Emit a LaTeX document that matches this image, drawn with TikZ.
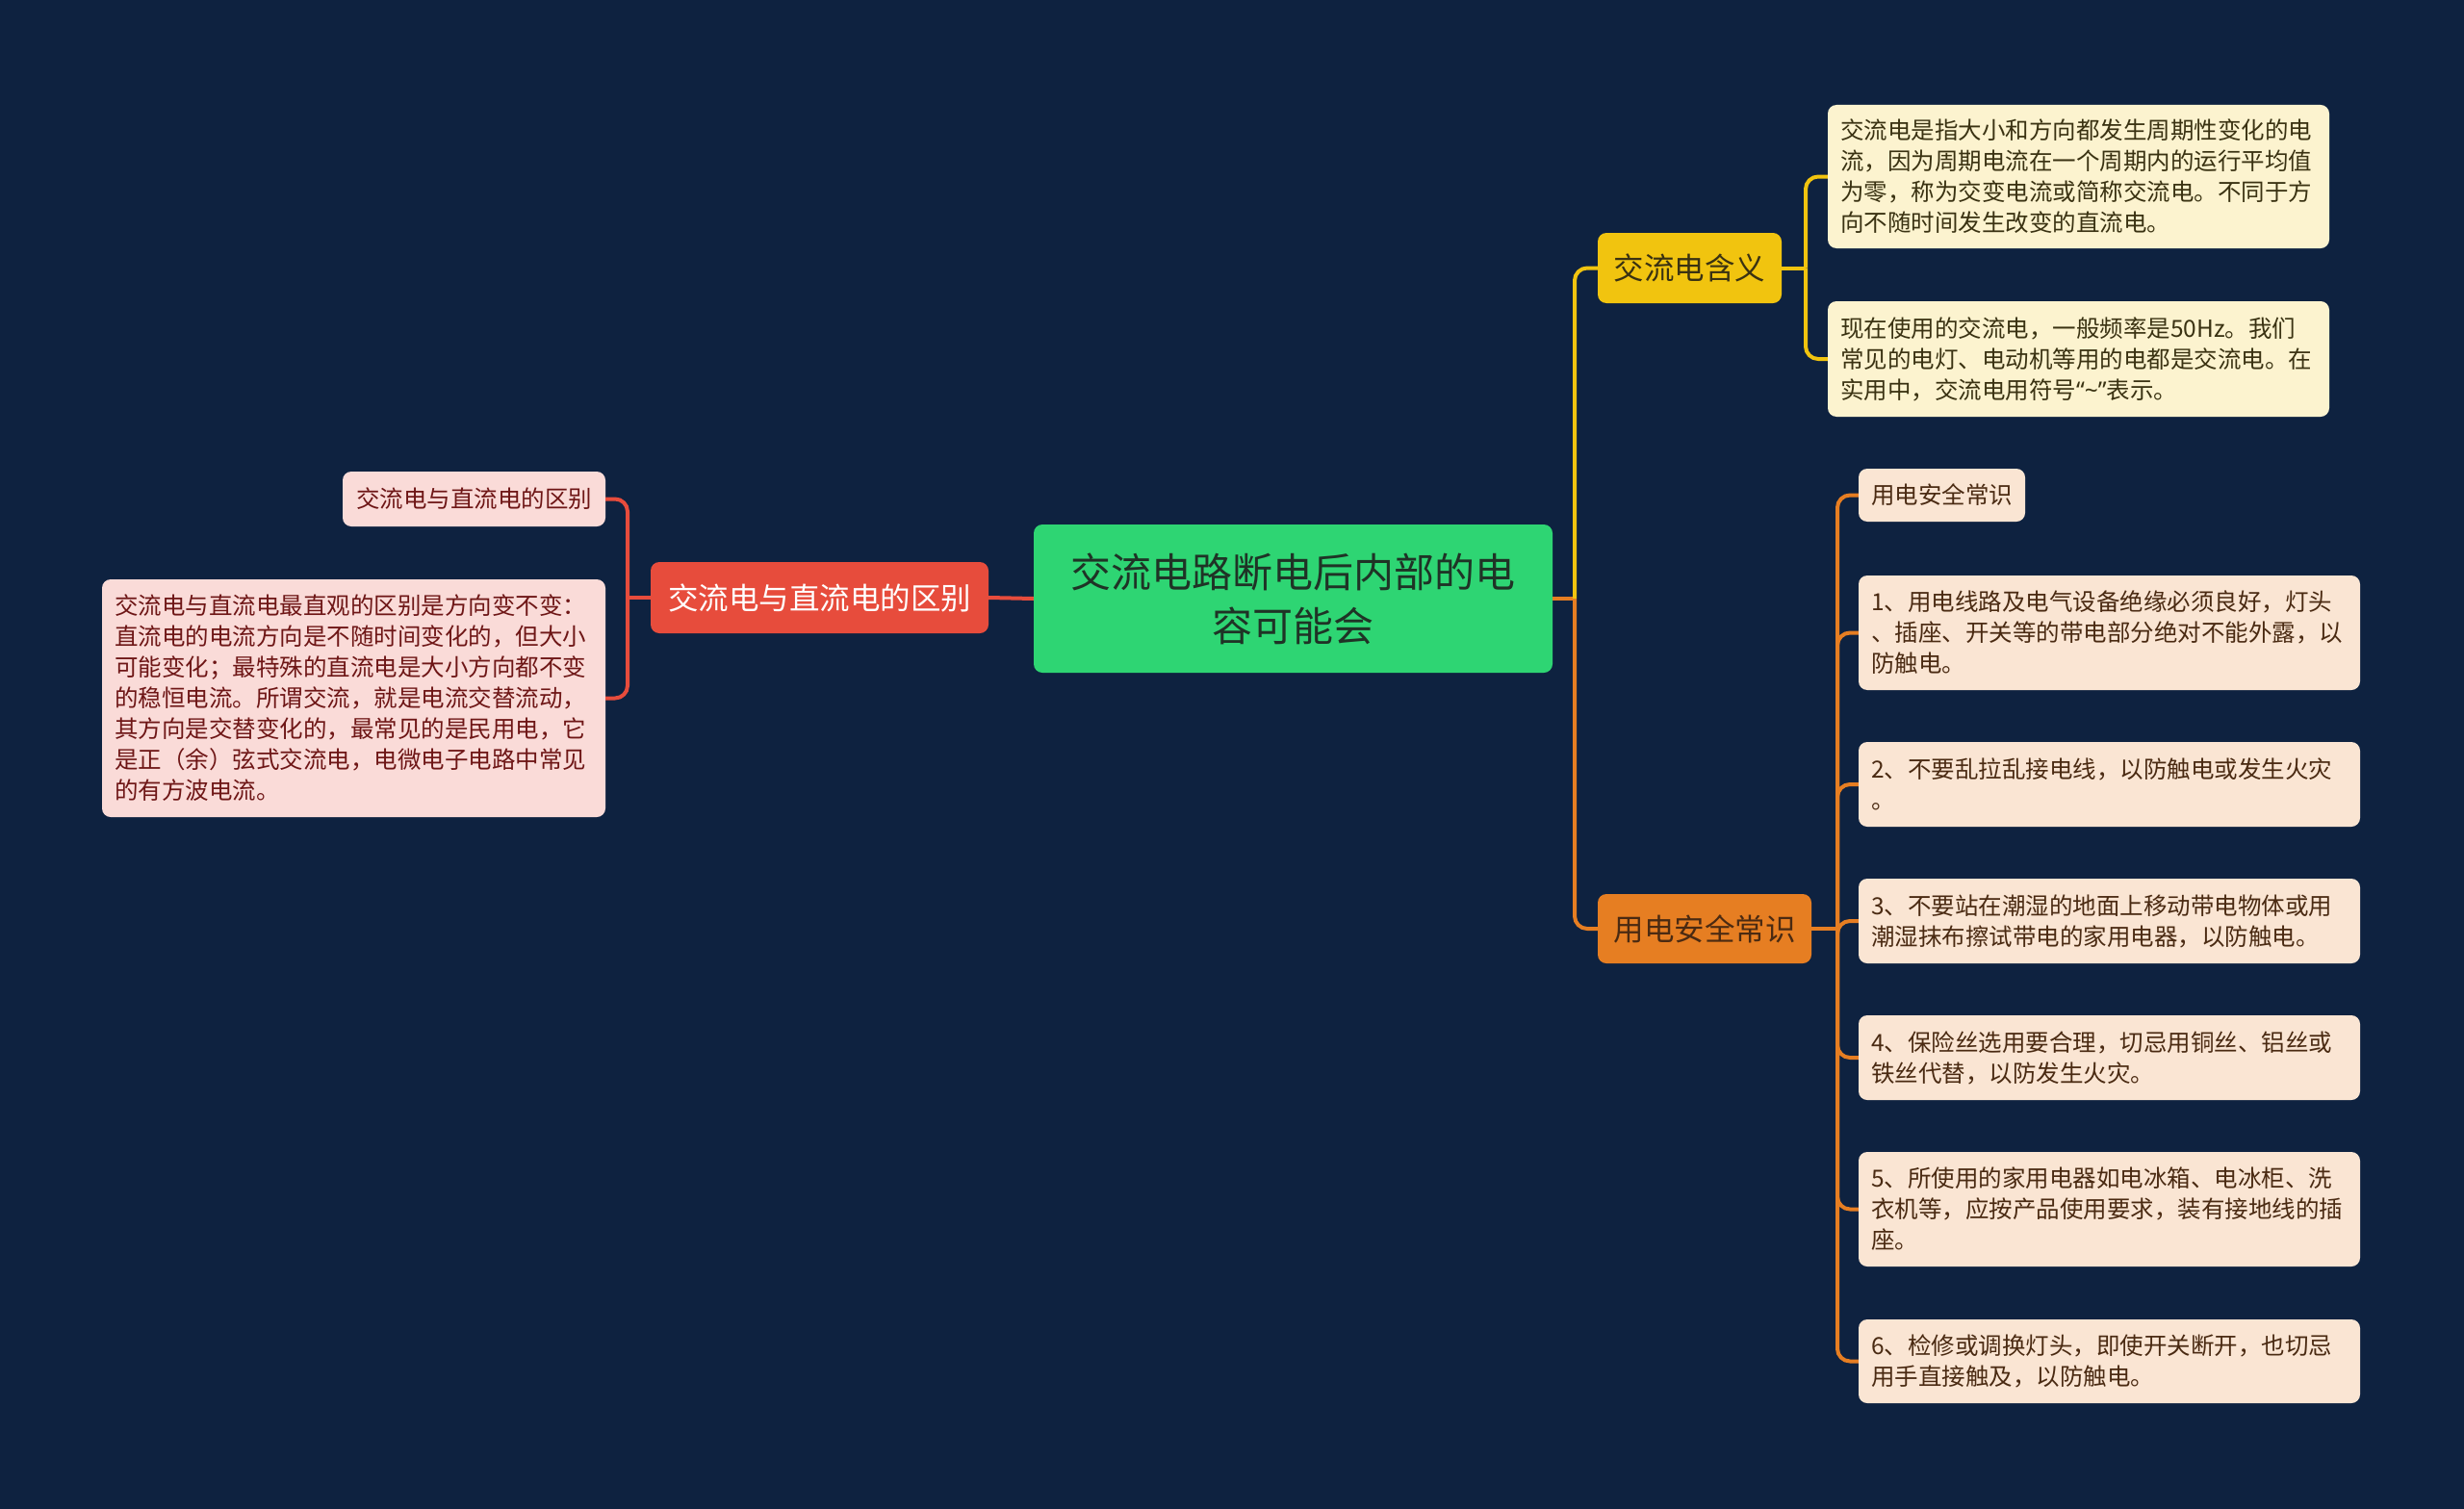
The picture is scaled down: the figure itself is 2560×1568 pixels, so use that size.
\documentclass[tikz,border=0pt]{standalone}
\usepackage{fontspec}
\setmainfont{Noto Sans CJK SC}
\newfontfamily\latinq{Noto Sans}
\definecolor{bgc}{HTML}{0E2240}
\definecolor{cgreen}{HTML}{2ED573}
\definecolor{cred}{HTML}{E74C3C}
\definecolor{cyellow}{HTML}{F1C40F}
\definecolor{corange}{HTML}{E67E22}
\definecolor{lpink}{HTML}{FADBD8}
\definecolor{lcream}{HTML}{FCF3CF}
\definecolor{lpeach}{HTML}{FAE5D3}
\definecolor{tpink}{HTML}{6E1616}
\definecolor{tcream}{HTML}{3A3212}
\definecolor{tpeach}{HTML}{4A2A12}
\definecolor{tdark}{HTML}{1F3326}
\tikzset{
  box/.style={rectangle, rounded corners=9pt, inner sep=0pt, align=left},
  rootbox/.style={box, fill=cgreen, text=tdark, align=center, font=\fontsize{42}{56}\selectfont},
  lvlone/.style={box, align=center, font=\fontsize{31.5}{40}\selectfont},
  leafpink/.style={box, fill=lpink, text=tpink, font=\fontsize{24.5}{32}\selectfont},
  leafcream/.style={box, fill=lcream, text=tcream, font=\fontsize{24.5}{32}\selectfont},
  leafpeach/.style={box, fill=lpeach, text=tpeach, font=\fontsize{24.5}{32}\selectfont},
  conn/.style={line width=4pt, rounded corners=13pt},
}
\begin{document}
\begin{tikzpicture}[x=1pt,y=-1pt]
\fill[bgc] (0,0) rectangle (2560,1568);
\useasboundingbox (0,0) rectangle (2560,1568);

% root
\node[rootbox, minimum width=539, minimum height=154] (root) at (1343.5,622)
  {交流电路断电后内部的电\\容可能会};

% left branch
\node[lvlone, fill=cred, text=white, minimum width=351, minimum height=74] (red) at (851.5,621)
  {交流电与直流电的区别};
\node[leafpink, minimum width=273, minimum height=57] (l1) at (492.5,518.5)
  {交流电与直流电的区别};
\node[leafpink, minimum width=523, minimum height=247, text width=497] (l2) at (367.5,725.5)
  {交流电与直流电最直观的区别是方向变不变：\\
   直流电的电流方向是不随时间变化的，但大小\\
   可能变化；最特殊的直流电是大小方向都不变\\
   的稳恒电流。所谓交流，就是电流交替流动，\\
   其方向是交替变化的，最常见的是民用电，它\\
   是正（余）弦式交流电，电微电子电路中常见\\
   的有方波电流。};

% right branch: yellow
\node[lvlone, fill=cyellow, text=tcream, minimum width=191, minimum height=73] (yel) at (1755.5,278.5)
  {交流电含义};
\node[leafcream, minimum width=521, minimum height=149, text width=495] (ya) at (2159.5,183.5)
  {交流电是指大小和方向都发生周期性变化的电\\
   流，因为周期电流在一个周期内的运行平均值\\
   为零，称为交变电流或简称交流电。不同于方\\
   向不随时间发生改变的直流电。};
\node[leafcream, minimum width=521, minimum height=120, text width=495] (yb) at (2159.5,373)
  {现在使用的交流电，一般频率是50Hz。我们\\
   常见的电灯、电动机等用的电都是交流电。在\\
   实用中，交流电用符号{\latinq “\textasciitilde”}表示。};

% right branch: orange
\node[lvlone, fill=corange, text=tpeach, minimum width=222, minimum height=72] (ora) at (1771,965)
  {用电安全常识};
\node[leafpeach, minimum width=173, minimum height=55] (o0) at (2017.5,514.5)
  {用电安全常识};
\node[leafpeach, minimum width=521, minimum height=119, text width=495] (o1) at (2191.5,657.5)
  {1、用电线路及电气设备绝缘必须良好，灯头\\
   、插座、开关等的带电部分绝对不能外露，以\\
   防触电。};
\node[leafpeach, minimum width=521, minimum height=88, text width=495] (o2) at (2191.5,815)
  {2、不要乱拉乱接电线，以防触电或发生火灾\\
   。};
\node[leafpeach, minimum width=521, minimum height=88, text width=495] (o3) at (2191.5,957)
  {3、不要站在潮湿的地面上移动带电物体或用\\
   潮湿抹布擦试带电的家用电器，以防触电。};
\node[leafpeach, minimum width=521, minimum height=88, text width=495] (o4) at (2191.5,1099)
  {4、保险丝选用要合理，切忌用铜丝、铝丝或\\
   铁丝代替，以防发生火灾。};
\node[leafpeach, minimum width=521, minimum height=119, text width=495] (o5) at (2191.5,1256.5)
  {5、所使用的家用电器如电冰箱、电冰柜、洗\\
   衣机等，应按产品使用要求，装有接地线的插\\
   座。};
\node[leafpeach, minimum width=521, minimum height=87, text width=495] (o6) at (2191.5,1414.5)
  {6、检修或调换灯头，即使开关断开，也切忌\\
   用手直接触及，以防触电。};

% junction coordinates
\coordinate (rj) at (652,621);
\coordinate (cj) at (1636,622);
\coordinate (yj) at (1876,278.5);
\coordinate (oj) at (1909,965);

% connectors
\draw[conn, cred] (root.west) -- (red.east);
\draw[conn, cred] (red.west) -- (rj);
\draw[conn, cred] (rj) |- (l1.east);
\draw[conn, cred] (rj) |- (l2.east);

\draw[conn, corange] (root.east) -- (cj);
\draw[conn, cyellow] (cj) |- (yel.west);
\draw[conn, corange] (cj) |- (ora.west);

\draw[conn, cyellow] (yel.east) -- (yj);
\draw[conn, cyellow] (yj) |- (ya.west);
\draw[conn, cyellow] (yj) |- (yb.west);

\draw[conn, corange] (ora.east) -- (oj);
\foreach \n in {o0,o1,o2,o3,o4,o5,o6}
  \draw[conn, corange] (oj) |- (\n.west);
\end{tikzpicture}
\end{document}
